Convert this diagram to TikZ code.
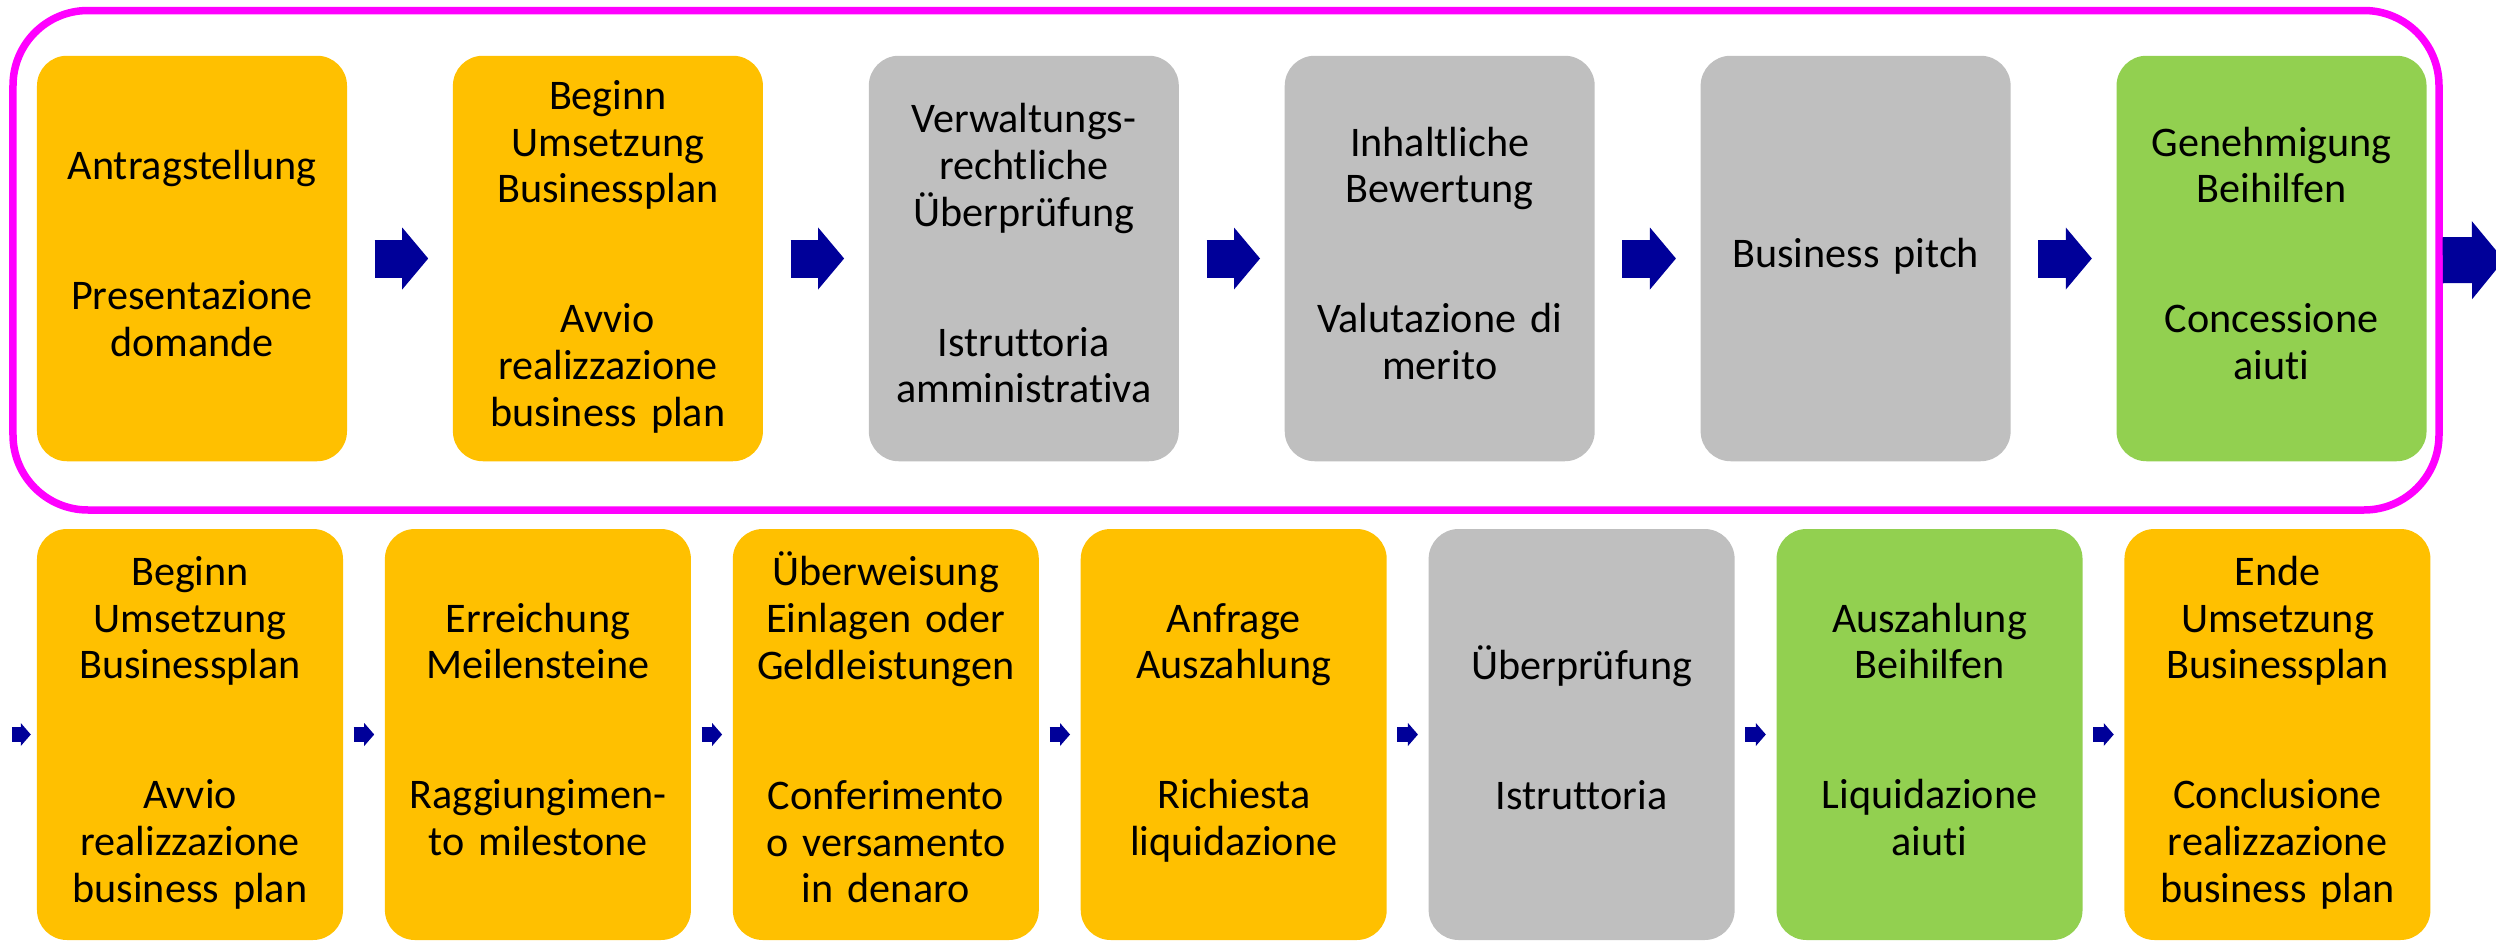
\documentclass[tikz,border=0pt]{standalone}
\usepackage{fontspec}
\setmainfont{Carlito}[Ligatures=CommonOff]
\usetikzlibrary{positioning,arrows.meta}
\definecolor{stepOrange}{HTML}{FFC000}
\definecolor{stepGrey}{HTML}{BFBFBF}
\definecolor{stepGreen}{HTML}{92D050}
\definecolor{arrowBlue}{HTML}{000099}
\definecolor{frameMagenta}{HTML}{FF00FF}
\newcommand{\langgap}{\\[23.7pt]}

\begin{document}
\begin{tikzpicture}[node distance=1.045cm,
    phase node/.style={rounded corners=0.3cm,inner sep=0.05cm,text width=3.0cm,
      minimum width=3.1cm,minimum height=4.055cm,align=center,
      font=\fontsize{12pt}{13.3pt}\selectfont,
      execute at begin node=\strut,execute at end node=\strut},
    low node/.style={phase node,text width=2.96cm,minimum width=3.06cm,minimum height=4.11cm},
    orange node/.style={phase node,fill=stepOrange},
    grey node/.style={phase node,fill=stepGrey},
    green node/.style={phase node,fill=stepGreen},
    frame node/.style={draw=frameMagenta,line width=0.075cm,rounded corners=0.75cm,
      minimum width=24.26cm,minimum height=4.995cm},
    big arrow/.style={draw=arrowBlue,line width=0.38cm,
      -{Triangle[length=0.26cm,width=0.62cm,line width=0pt]},
      shorten <=0.27cm,shorten >=0.24cm},
    small arrow/.style={draw=arrowBlue,line width=0.15cm,
      -{Triangle[length=0.10cm,width=0.23cm,line width=0pt]},
      shorten <=0.1cm,shorten >=0.1cm},
    exit arrow/.style={draw=arrowBlue,line width=0.46cm,
      -{Triangle[length=0.32cm,width=0.78cm,line width=0pt]}}]

    \useasboundingbox (0,0) rectangle (24.96,9.40);

    % Application phase (top row)
    \node[frame node] (frame) at (12.26,6.7975) {};
    \node[orange node] (t1) at (1.92,6.815) {Antragstellung\langgap Presentazione\\domande};
    \node[orange node] (t2) [right=of t1] {Beginn\\Umsetzung\\Businessplan\langgap Avvio\\realizzazione\\business plan};
    \node[grey node] (t3) [right=of t2] {Verwaltungs-\\rechtliche\\Überprüfung\langgap Istruttoria\\amministrativa};
    \node[grey node] (t4) [right=of t3] {Inhaltliche\\Bewertung\langgap Valutazione di\\merito};
    \node[grey node] (t5) [right=of t4] {Business pitch};
    \node[green node] (t6) [right=of t5] {Genehmigung\\Beihilfen\langgap Concessione\\aiuti};
    \coordinate (out) at (25.04,6.8);

    % Implementation phase (bottom row)
    \node[orange node,low node] (b1) at (1.90,2.055) {Beginn\\Umsetzung\\Businessplan\langgap Avvio\\realizzazione\\business plan};
    \node[orange node,low node] (b2) [right=0.405cm of b1] {Erreichung\\Meilensteine\langgap Raggiungimen-\\to milestone};
    \node[orange node,low node] (b3) [right=0.405cm of b2] {Überweisung\\Einlagen oder\\Geldleistungen\langgap Conferimento\\o versamento\\in denaro};
    \node[orange node,low node] (b4) [right=0.405cm of b3] {Anfrage\\Auszahlung\langgap Richiesta\\liquidazione};
    \node[grey node,low node] (b5) [right=0.405cm of b4] {Überprüfung\langgap Istruttoria};
    \node[green node,low node] (b6) [right=0.405cm of b5] {Auszahlung\\Beihilfen\langgap Liquidazione\\aiuti};
    \node[orange node,low node] (b7) [right=0.405cm of b6] {Ende\\Umsetzung\\Businessplan\langgap Conclusione\\realizzazione\\business plan};
    \coordinate (in) at (0.12,2.055);

    % Draw arrows
    \path (t1) edge[big arrow] (t2)
          (t2) edge[big arrow] (t3)
          (t3) edge[big arrow] (t4)
          (t4) edge[big arrow] (t5)
          (t5) edge[big arrow] (t6)
          (frame.east) edge[exit arrow] (out);
    \path (in) edge[small arrow,shorten <=0pt,shorten >=0.055cm] (b1)
          (b1) edge[small arrow] (b2)
          (b2) edge[small arrow] (b3)
          (b3) edge[small arrow] (b4)
          (b4) edge[small arrow] (b5)
          (b5) edge[small arrow] (b6)
          (b6) edge[small arrow] (b7);

\end{tikzpicture}
\end{document}
